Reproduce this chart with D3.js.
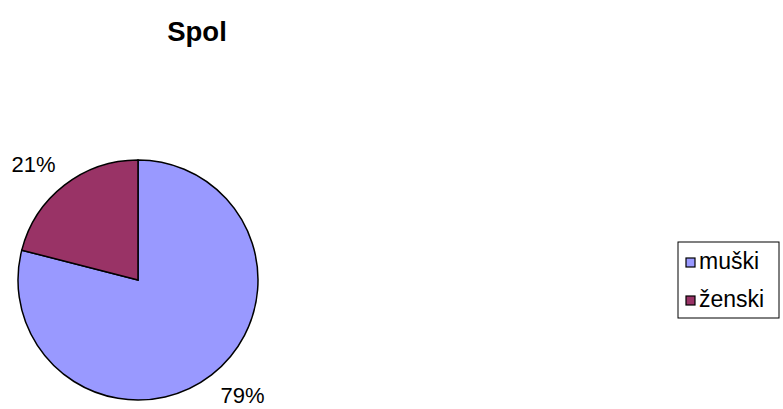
<!DOCTYPE html>
<html>
<head>
<meta charset="utf-8">
<script src="https://cdn.jsdelivr.net/npm/d3@7"></script>
<style>
  body { margin: 0; background: #fff; }
  text { font-family: Arial, "Liberation Sans", sans-serif; }
</style>
</head>
<body>
<div id="graph_here"></div>
<script>
// chart data
const categories = ["muški", "ženski"];
const values = [79, 21];
const colors = ["#9999FF", "#993366"];
const title = "Spol";

function drawpie(){
    const width = 783;
    const height = 409;

    var svg = d3.select('#graph_here')
        .append('svg')
        .attr("width", width)
        .attr("height", height)
        .style("background-color", "white");

    svg.append("text")
        .attr("x", 197)
        .attr("y", 41)
        .attr("text-anchor", "middle")
        .style("font-size", "27.5px")
        .style("font-weight", "bold")
        .text(title);

    const cx = 138, cy = 280, radius = 120;

    // start at 12 o'clock, clockwise, keep data order
    const pie = d3.pie().sort(null).value(d => d);
    const arcs = pie(values);
    const arc = d3.arc().innerRadius(0).outerRadius(radius);

    const g = svg.append("g").attr("transform", "translate(" + cx + "," + cy + ")");

    g.selectAll("path")
        .data(arcs)
        .enter()
        .append("path")
        .attr("d", arc)
        .attr("fill", (d, i) => colors[i])
        .attr("stroke", "black")
        .attr("stroke-width", 1.5);

    // percentage labels outside the pie
    const labelR = 156;
    const total = d3.sum(values);
    const mid = d => (d.startAngle + d.endAngle) / 2 - 0.075;
    g.selectAll("text.lbl")
        .data(arcs)
        .enter()
        .append("text")
        .attr("class", "lbl")
        .attr("x", d => labelR * Math.sin(mid(d)))
        .attr("y", d => -labelR * Math.cos(mid(d)))
        .attr("text-anchor", "middle")
        .attr("dominant-baseline", "central")
        .style("font-size", "22px")
        .text(d => Math.round(d.value / total * 100) + "%");

    // legend
    const lx = 678, ly = 242, rowH = 38;
    const legend = svg.append("g");
    legend.append("rect")
        .attr("x", lx)
        .attr("y", ly)
        .attr("width", 101)
        .attr("height", rowH * categories.length)
        .attr("fill", "white")
        .attr("stroke", "black")
        .attr("stroke-width", 1);

    const items = legend.selectAll("g.item")
        .data(categories)
        .enter()
        .append("g")
        .attr("class", "item")
        .attr("transform", (d, i) => "translate(" + lx + "," + (ly + i * rowH) + ")");

    items.append("rect")
        .attr("x", 8)
        .attr("y", 16)
        .attr("width", 9)
        .attr("height", 9)
        .attr("fill", (d, i) => colors[i])
        .attr("stroke", "black")
        .attr("stroke-width", 1.2);

    items.append("text")
        .attr("x", 21)
        .attr("y", 26.5)
        .style("font-size", "23px")
        .text(d => d);
}

window.addEventListener('load', drawpie);
</script>
</body>
</html>
